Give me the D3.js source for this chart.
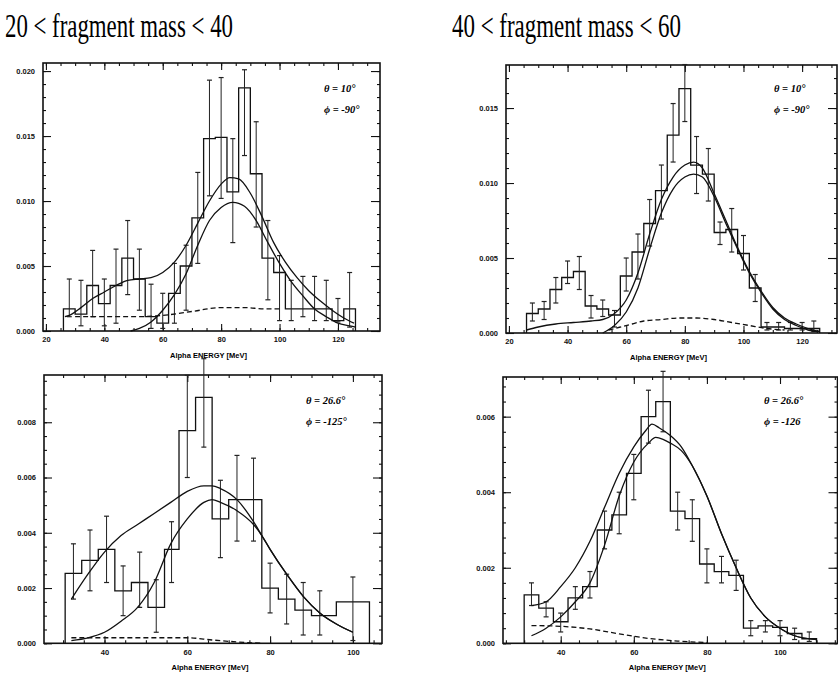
<!DOCTYPE html>
<html>
<head>
<meta charset="utf-8">
<script src="https://cdnjs.cloudflare.com/ajax/libs/d3/7.8.5/d3.min.js"></script>
<style>
	body { margin: 0; background: #fff; }
	svg { display: block; }
	.tick text { font-family: "Liberation Sans", Arial, sans-serif; font-weight: bold; font-size: 7.5px; fill: #111; }
	.tick line { stroke: #111; stroke-width: 1.1; }
</style>
</head>
<body>
<div id="chartDiv"></div>
<script>
;(function() {

	// ---- titles ----
	var titles = ["20 < fragment mass < 40", "40 < fragment mass < 60"];

	// ---- panel 1 : 20 < mass < 40, theta 10 ----
	var p1Edges = [26,30,34,38,42,46,50,54,58,62,66,70,74,78,82,86,90,94,98,102,106,110,114,118,122,126];
	var p1Values = [0.0017,0.0013,0.0035,0.0021,0.0035,0.0056,0.0040,0.0011,0.0006,0.0029,0.0050,0.0087,0.0148,0.0149,0.0107,0.0187,0.0121,0.0056,0.0045,0.0017,0.0017,0.0017,0.0017,0.0008,0.0017];
	var p1ErrX = [28,32,36,40,44,48,52,56,60,64,68,72,76,80,84,88,92,96,100,104,108,112,116,120,124];
	var p1ErrLo = [0.0011,0.0004,0.0011,0.0004,0.0006,0.0028,0.0016,0.0002,0.0002,0.0006,0.0016,0.0052,0.0104,0.0102,0.0068,0.0135,0.0080,0.0024,0.0008,0.0008,0.0011,0.0008,0.0008,0.0007,0.0003];
	var p1ErrHi = [0.0040,0.0039,0.0062,0.0040,0.0063,0.0085,0.0063,0.0036,0.0029,0.0052,0.0066,0.0122,0.0193,0.0195,0.0148,0.0201,0.0161,0.0085,0.0058,0.0039,0.0042,0.0042,0.0039,0.0025,0.0045];
	var p1FitTotal = [[26.5,0.0011],[28,0.0012],[32,0.0018],[36,0.0025],[40,0.0030],[44,0.0035],[48,0.0039],[52,0.0040],[56,0.0041],[60,0.0045],[64,0.0053],[68,0.0066],[72,0.0083],[76,0.0100],[80,0.0113],[83,0.0118],[86,0.0117],[90,0.0106],[94,0.0088],[98,0.0068],[102,0.0053],[106,0.0041],[110,0.0031],[114,0.0023],[118,0.0016],[122,0.0010],[125.5,0.0006]];
	var p1FitMain = [[49,0.0000],[52,0.0002],[56,0.0007],[60,0.0016],[64,0.0028],[68,0.0044],[72,0.0066],[76,0.0085],[80,0.0095],[84,0.0099],[88,0.0096],[92,0.0085],[96,0.0068],[100,0.0052],[104,0.0038],[108,0.0027],[112,0.0017],[116,0.0011],[120,0.0006],[124,0.0004],[126,0.0003]];
	var p1FitBg = [[30,0.0011],[40,0.0011],[50,0.0011],[60,0.0012],[70,0.0015],[80,0.0018],[88,0.0018],[95,0.0017],[100,0.0017]];

	// ---- panel 2 : 40 < mass < 60, theta 10 ----
	var p2Edges = [26,30,34,38,42,46,50,54,58,62,66,70,74,78,82,86,90,94,98,102,106,110,114,118,122,126];
	var p2Values = [0.0013,0.0016,0.0029,0.0037,0.0041,0.0018,0.0016,0.0012,0.0038,0.0054,0.0073,0.0095,0.0132,0.0163,0.0112,0.0106,0.0067,0.0069,0.0053,0.0030,0.0004,0.0004,0.0003,0.0003,0.0003];
	var p2ErrX = [28,32,36,40,44,48,52,56,60,64,68,72,76,80,84,88,92,96,100,104,108,112,116,120,124];
	var p2ErrLo = [0.0008,0.0009,0.0020,0.0033,0.0029,0.0010,0.0011,0.0004,0.0028,0.0036,0.0058,0.0076,0.0114,0.0141,0.0093,0.0088,0.0059,0.0054,0.0042,0.0021,0.0002,0.0002,0.0002,0.0002,0.0001];
	var p2ErrHi = [0.0020,0.0021,0.0037,0.0048,0.0051,0.0025,0.0022,0.0015,0.0050,0.0066,0.0089,0.0112,0.0153,0.0179,0.0131,0.0123,0.0074,0.0083,0.0065,0.0039,0.0007,0.0007,0.0007,0.0007,0.0008];
	var p2FitTotal = [[26,0.0002],[30,0.0004],[36,0.0006],[42,0.0007],[48,0.0008],[52,0.0009],[56,0.0013],[60,0.0022],[64,0.0040],[68,0.0066],[72,0.0089],[76,0.0104],[80,0.0112],[83,0.0114],[86,0.0110],[90,0.0093],[94,0.0075],[98,0.0057],[102,0.0041],[106,0.0028],[110,0.0017],[114,0.0010],[118,0.0006],[122,0.0003],[126,0.0001]];
	var p2FitMain = [[52,0.0000],[56,0.0005],[60,0.0014],[64,0.0030],[68,0.0056],[72,0.0080],[76,0.0096],[80,0.0104],[83,0.0106],[86,0.0104],[90,0.0091],[94,0.0073],[98,0.0056],[102,0.0040],[106,0.0027],[110,0.0016],[114,0.0009],[118,0.0005],[122,0.0002],[126,0.0001]];
	var p2FitBg = [[54,0.0002],[58,0.0004],[62,0.0006],[66,0.0008],[72,0.0009],[78,0.0010],[84,0.0010],[90,0.0009],[96,0.0007],[102,0.0005],[108,0.0003],[114,0.0002]];

	// ---- panel 3 : 20 < mass < 40, theta 26.6 ----
	var p3Edges = [30.5,34.5,38.5,42.5,46.5,50.5,54.5,58,62,66,70,74,78,82,86,90,96,104];
	var p3Values = [0.00253,0.0030,0.0034,0.0019,0.0022,0.0013,0.0034,0.0077,0.0089,0.0045,0.0052,0.0052,0.0020,0.0016,0.0012,0.0010,0.0015];
	var p3ErrX = [32.5,36.5,40.5,44.5,48.5,52.5,56.2,60,64,68,72,76,80,84,88,92,100];
	var p3ErrLo = [0.0016,0.0019,0.0022,0.0010,0.0013,0.0004,0.0022,0.0060,0.0071,0.0031,0.0037,0.0037,0.0011,0.0007,0.0003,0.0003,0.0001];
	var p3ErrHi = [0.0036,0.0041,0.0046,0.0028,0.0033,0.0023,0.0044,0.0097,0.0103,0.0059,0.0068,0.0067,0.0029,0.0025,0.0022,0.0019,0.0024];
	var p3FitTotal = [[32,0.0016],[36,0.0025],[40,0.0033],[44,0.0039],[48,0.0043],[52,0.0047],[56,0.0051],[60,0.0055],[64,0.0057],[66,0.0057],[68,0.0056],[72,0.0052],[76,0.0044],[78,0.0039],[80,0.0034],[84,0.0025],[88,0.0017],[92,0.0011],[96,0.0007],[100,0.0004]];
	var p3FitMain = [[32,0.0001],[36,0.0002],[40,0.0004],[44,0.0008],[48,0.0013],[52,0.0022],[56,0.0036],[60,0.0045],[64,0.0051],[66,0.0052],[68,0.0051],[72,0.0048],[76,0.0043],[78,0.0039],[80,0.0034],[84,0.0025],[88,0.0017],[92,0.0011],[96,0.0007],[100,0.0004]];
	var p3FitBg = [[32,0.0002],[50,0.0002],[60,0.0002],[66,0.00012],[72,0.00005],[78,0.0000]];

	// ---- panel 4 : 40 < mass < 60, theta 26.6 ----
	var p4Edges = [30,34,38,42,46,50,54,58,62,66,70,74,78,82,86,90,94,98,102,106,110];
	var p4Values = [0.00128,0.00093,0.00057,0.0012,0.0015,0.0030,0.0034,0.0045,0.0060,0.0064,0.0035,0.0033,0.0021,0.0019,0.0018,0.0004,0.00046,0.00042,0.00026,0.00012];
	var p4ErrX = [32,36,40,44,48,52,56,60,64,68,72,76,80,84,88,92,96,100,104,108];
	var p4ErrLo = [0.0010,0.0007,0.0003,0.0009,0.0012,0.0025,0.0029,0.0038,0.0053,0.0056,0.0030,0.0027,0.0016,0.0016,0.0014,0.0002,0.0003,0.0002,0.0001,0.00005];
	var p4ErrHi = [0.0016,0.0011,0.0008,0.0015,0.0019,0.0035,0.0040,0.0050,0.0067,0.0072,0.0040,0.0038,0.0025,0.0023,0.0022,0.0006,0.0006,0.0006,0.0004,0.0003];
	var p4FitTotal = [[32,0.0010],[36,0.0011],[40,0.0015],[44,0.0020],[48,0.0027],[52,0.0036],[56,0.0045],[60,0.0052],[63,0.0056],[65,0.0058],[67,0.0057],[70,0.0055],[73,0.0052],[76,0.0047],[80,0.0039],[84,0.0029],[88,0.0020],[92,0.0012],[96,0.0007],[100,0.0004],[104,0.0002],[110,0.0001]];
	var p4FitMain = [[32,0.0002],[36,0.0004],[40,0.0007],[44,0.0011],[48,0.0016],[52,0.0026],[56,0.0039],[60,0.0048],[64,0.0053],[66,0.00545],[68,0.0054],[70,0.0053],[73,0.0051],[76,0.0047],[80,0.0039],[84,0.0029],[88,0.0020],[92,0.0012],[96,0.0007],[100,0.0004],[104,0.0002],[110,0.0001]];
	var p4FitBg = [[32,0.00047],[40,0.00045],[48,0.00038],[56,0.00025],[64,0.00013],[72,0.00006],[80,0.00002]];

	// ---- ticks & labels ----
	var xTicksTop = [20,40,60,80,100,120];
	var xTicksBottom = [40,60,80,100];
	var yTicksTop1 = [0,0.005,0.010,0.015,0.020];
	var yTicksTop2 = [0,0.005,0.010,0.015];
	var yTicksBottom1 = [0,0.002,0.004,0.006,0.008];
	var yTicksBottom2 = [0,0.002,0.004,0.006];
	var angleLabels = [["θ = 10°","ϕ = -90°"],["θ = 10°","ϕ = -90°"],["θ = 26.6°","ϕ = -125°"],["θ = 26.6°","ϕ = -126"]];
	var xAxisLabelHeader = "Alpha ENERGY [MeV]";

	var width = 838;
	var height = 673;

	var panels = [
		{ box: {l:43, r:380, t:63, b:331}, xDom:[19,134.4], yMax:0.02062, xTicks:xTicksTop, xMinor:5, yTicks:yTicksTop1, yMinor:0.001,
		  edges:p1Edges, values:p1Values, errX:p1ErrX, errLo:p1ErrLo, errHi:p1ErrHi, fits:[p1FitTotal,p1FitMain], bg:p1FitBg, lab:angleLabels[0], labX:324, labY:92 },
		{ box: {l:506, r:837, t:65, b:333}, xDom:[19,131.9], yMax:0.01787, xTicks:xTicksTop, xMinor:5, yTicks:yTicksTop2, yMinor:0.001,
		  edges:p2Edges, values:p2Values, errX:p2ErrX, errLo:p2ErrLo, errHi:p2ErrHi, fits:[p2FitTotal,p2FitMain], bg:p2FitBg, lab:angleLabels[1], labX:774, labY:92 },
		{ box: {l:44, r:382, t:375, b:643.3}, xDom:[25.39,107.03], yMax:0.00971, xTicks:xTicksBottom, xMinor:5, yTicks:yTicksBottom1, yMinor:0.0005,
		  edges:p3Edges, values:p3Values, errX:p3ErrX, errLo:p3ErrLo, errHi:p3ErrHi, fits:[p3FitTotal,p3FitMain], bg:p3FitBg, lab:angleLabels[2], labX:306, labY:404 },
		{ box: {l:503, r:837.5, t:377, b:643.3}, xDom:[24.21,115.73], yMax:0.00705, xTicks:xTicksBottom, xMinor:5, yTicks:yTicksBottom2, yMinor:0.0004,
		  edges:p4Edges, values:p4Values, errX:p4ErrX, errLo:p4ErrLo, errHi:p4ErrHi, fits:[p4FitTotal,p4FitMain], bg:p4FitBg, lab:angleLabels[3], labX:764, labY:404 }
	];

	var chart = d3.select("#chartDiv").append("svg")
		.attr("width", width)
		.attr("height", height);

	// titles
	chart.append("text")
		.attr("x", 5).attr("y", 37)
		.attr("textLength", 228).attr("lengthAdjust", "spacingAndGlyphs")
		.style("font-family", "'Liberation Serif', 'Times New Roman', serif")
		.style("font-size", "34px")
		.text(titles[0]);
	chart.append("text")
		.attr("x", 452).attr("y", 37)
		.attr("textLength", 229).attr("lengthAdjust", "spacingAndGlyphs")
		.style("font-family", "'Liberation Serif', 'Times New Roman', serif")
		.style("font-size", "34px")
		.text(titles[1]);

	panels.forEach(drawPanel);

	function range(a, b, step) {
		var out = [];
		for (var v = a; v <= b + 1e-9; v += step) out.push(+v.toFixed(6));
		return out;
	}

	function drawPanel(p) {
		var g = chart.append("g");
		var x = d3.scaleLinear().domain(p.xDom).range([p.box.l, p.box.r]);
		var y = d3.scaleLinear().domain([0, p.yMax]).range([p.box.b, p.box.t]);

		var xMinorTicks = range(Math.ceil(p.xDom[0] / p.xMinor) * p.xMinor, p.xDom[1], p.xMinor);
		var yMinorTicks = range(0, p.yMax, p.yMinor);

		// minor ticks, all four sides
		var minors = [
			[d3.axisBottom(x).tickValues(xMinorTicks), "translate(0," + p.box.b + ")"],
			[d3.axisTop(x).tickValues(xMinorTicks), "translate(0," + p.box.t + ")"],
			[d3.axisLeft(y).tickValues(yMinorTicks), "translate(" + p.box.l + ",0)"],
			[d3.axisRight(y).tickValues(yMinorTicks), "translate(" + p.box.r + ",0)"]
		];
		minors.forEach(function(m) {
			g.append("g").attr("transform", m[1])
				.call(m[0].tickSize(-3).tickFormat(""))
				.call(function(s) { s.select(".domain").remove(); });
		});

		// major ticks
		g.append("g").attr("transform", "translate(0," + p.box.b + ")")
			.call(d3.axisBottom(x).tickValues(p.xTicks).tickSize(-7).tickPadding(6).tickFormat(d3.format("d")))
			.call(function(s) { s.select(".domain").remove(); });
		g.append("g").attr("transform", "translate(0," + p.box.t + ")")
			.call(d3.axisTop(x).tickValues(p.xTicks).tickSize(-7).tickFormat(""))
			.call(function(s) { s.select(".domain").remove(); });
		g.append("g").attr("transform", "translate(" + p.box.l + ",0)")
			.call(d3.axisLeft(y).tickValues(p.yTicks).tickSize(-8).tickPadding(8).tickFormat(d3.format(".3f")))
			.call(function(s) { s.select(".domain").remove(); });
		g.append("g").attr("transform", "translate(" + p.box.r + ",0)")
			.call(d3.axisRight(y).tickValues(p.yTicks).tickSize(-9).tickFormat(""))
			.call(function(s) { s.select(".domain").remove(); });

		// frame
		g.append("rect")
			.attr("x", p.box.l).attr("y", p.box.t)
			.attr("width", p.box.r - p.box.l).attr("height", p.box.b - p.box.t)
			.attr("fill", "none").attr("stroke", "#111").attr("stroke-width", 1.6);

		// histogram steps
		var path = d3.path();
		path.moveTo(x(p.edges[0]), y(0));
		p.values.forEach(function(v, i) {
			path.lineTo(x(p.edges[i]), y(v));
			path.lineTo(x(p.edges[i + 1]), y(v));
		});
		path.lineTo(x(p.edges[p.edges.length - 1]), y(0));
		g.append("path").attr("d", path.toString())
			.attr("fill", "none").attr("stroke", "#111").attr("stroke-width", 1.3);

		// error bars
		var errs = g.selectAll(".err").data(p.errX).enter().append("g").attr("class", "err");
		errs.append("line")
			.attr("x1", function(d) { return x(d); }).attr("x2", function(d) { return x(d); })
			.attr("y1", function(d, i) { return y(p.errLo[i]); })
			.attr("y2", function(d, i) { return y(p.errHi[i]); })
			.attr("stroke", "#222").attr("stroke-width", 1);
		errs.append("line")
			.attr("x1", function(d) { return x(d) - 2.5; }).attr("x2", function(d) { return x(d) + 2.5; })
			.attr("y1", function(d, i) { return y(p.errHi[i]); })
			.attr("y2", function(d, i) { return y(p.errHi[i]); })
			.attr("stroke", "#222").attr("stroke-width", 1.2);
		errs.append("line")
			.attr("x1", function(d) { return x(d) - 2.5; }).attr("x2", function(d) { return x(d) + 2.5; })
			.attr("y1", function(d, i) { return y(p.errLo[i]); })
			.attr("y2", function(d, i) { return y(p.errLo[i]); })
			.attr("stroke", "#222").attr("stroke-width", 1.2);

		// fit curves
		var line = d3.line()
			.x(function(d) { return x(d[0]); })
			.y(function(d) { return y(d[1]); })
			.curve(d3.curveMonotoneX);
		p.fits.forEach(function(f) {
			g.append("path").datum(f).attr("d", line)
				.attr("fill", "none").attr("stroke", "#111").attr("stroke-width", 1.3);
		});
		g.append("path").datum(p.bg).attr("d", line)
			.attr("fill", "none").attr("stroke", "#111").attr("stroke-width", 1.3)
			.attr("stroke-dasharray", "5,3");

		// angle labels
		p.lab.forEach(function(t, i) {
			g.append("text")
				.attr("x", p.labX).attr("y", p.labY + i * 21)
				.style("font-family", "'Liberation Serif', 'Times New Roman', serif")
				.style("font-style", "italic")
				.style("font-weight", "bold")
				.style("font-size", "10.5px")
				.text(t);
		});

		// x axis header label
		g.append("text")
			.attr("text-anchor", "middle")
			.attr("x", (p.box.l + p.box.r) / 2 - 3)
			.attr("y", p.box.b + 27)
			.style("font-family", "'Liberation Sans', Arial, sans-serif")
			.style("font-weight", "bold")
			.style("font-size", "7.5px")
			.text(xAxisLabelHeader);
	}

})();
</script>
</body>
</html>
